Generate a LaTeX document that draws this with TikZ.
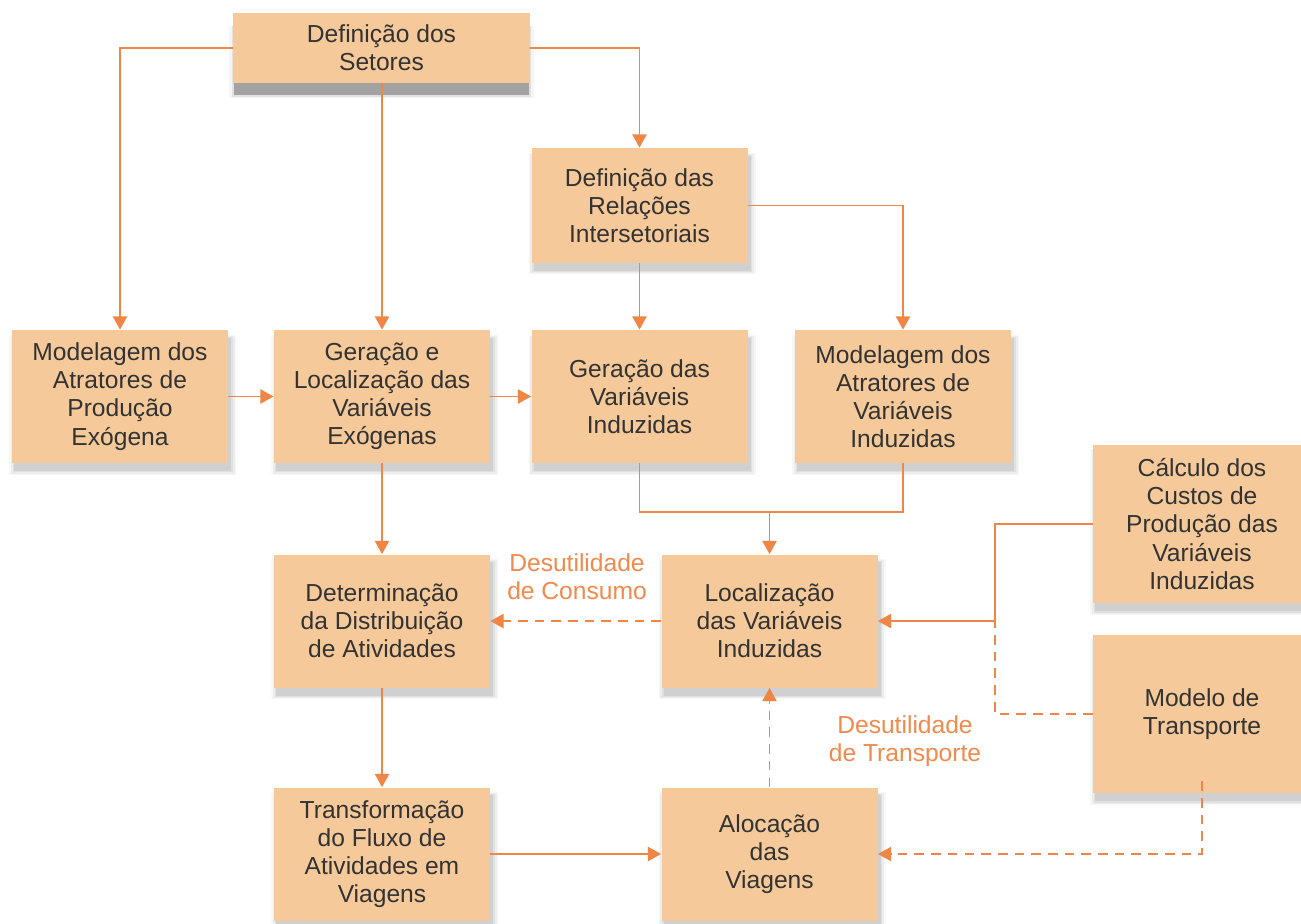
\documentclass[tikz,border=0pt]{standalone}
\usepackage{fontspec}
\setmainfont{Liberation Sans}
\usetikzlibrary{arrows.meta,shadows}
\definecolor{boxfill}{HTML}{F5C99A}
\definecolor{lineor}{HTML}{EF8646}
\definecolor{txt}{HTML}{333333}
\definecolor{lblor}{HTML}{F08A4D}
\tikzset{
  softshadow/.style={
    general shadow={fill=black, opacity=0.03, shadow xshift=1.5pt, shadow yshift=-4.5pt, shadow scale=1.05},
    general shadow={fill=black, opacity=0.04, shadow xshift=1.5pt, shadow yshift=-4.5pt, shadow scale=1.035},
    general shadow={fill=black, opacity=0.05, shadow xshift=1.5pt, shadow yshift=-4.5pt, shadow scale=1.02},
    general shadow={fill=black, opacity=0.07, shadow xshift=1.5pt, shadow yshift=-4.5pt, shadow scale=1.005}},
  greyshadow/.style={
    general shadow={fill=black, opacity=0.04, shadow yshift=-7.5pt, shadow scale=1.03},
    general shadow={fill=black, opacity=0.08, shadow yshift=-7.5pt, shadow scale=1.01},
    general shadow={fill=black, opacity=0.28, shadow yshift=-7pt, shadow scale=0.99}},
  plainbox/.style={rectangle, fill=boxfill, draw=none, text=txt, align=center,
    minimum width=4.32cm, minimum height=2.66cm, inner sep=0pt,
    font=\fontsize{14}{16}\selectfont},
  box/.style={plainbox, softshadow},
  conn/.style={draw=lineor, line width=1.1pt},
  arr/.style={conn, -{Triangle[width=8pt,length=7.5pt]}},
  dsh/.style={dash pattern=on 5.5pt off 4pt},
  lbl/.style={text=lblor, align=center, font=\fontsize{14}{16}\selectfont, inner sep=0pt}
}
\begin{document}
\begin{tikzpicture}
\useasboundingbox (0,0) rectangle (26.02,-18.46);
\fill[white] (0,0) rectangle (26.02,-18.46);
\coordinate (j) at (15.39,-10.24);
\coordinate (k) at (19.9,-12.42);
\node[plainbox, greyshadow, minimum width=5.94cm, minimum height=1.4cm] (setores) at (7.63,-0.96) {Definição dos\\Setores};
\node[box, minimum height=2.3cm] (relacoes) at (12.79,-4.11) {Definição das\\Relações\\Intersetoriais};
\node[box] (mod1) at (2.4,-7.93) {Modelagem dos\\Atratores de\\Produção\\Exógena};
\node[box] (gerloc) at (7.64,-7.93) {Geração e\\Localização das\\Variáveis\\Exógenas};
\node[box] (gerind) at (12.79,-7.93) {Geração das\\Variáveis\\Induzidas};
\node[box] (mod2) at (18.06,-7.93) {Modelagem dos\\Atratores de\\Variáveis\\Induzidas};
\node[box, minimum width=4.36cm, minimum height=3.16cm] (calculo) at (24.04,-10.48) {Cálculo dos\\Custos de\\Produção das\\Variáveis\\Induzidas};
\node[box, minimum width=4.36cm, minimum height=3.16cm] (modelo) at (24.04,-14.28) {Modelo de\\Transporte};
\node[box] (determ) at (7.64,-12.42) {Determinação\\da Distribuição\\de Atividades};
\node[box] (local) at (15.39,-12.42) {Localização\\das Variáveis\\Induzidas};
\node[box] (transf) at (7.64,-17.08) {Transformação\\do Fluxo de\\Atividades em\\Viagens};
\node[box] (aloc) at (15.39,-17.08) {Alocação\\das\\Viagens};

\draw[arr] (setores.west) -| (mod1.north);
\draw[arr] (gerloc.north |- setores.south) -- (gerloc.north);
\draw[arr] (setores.east) -| (relacoes.north);
\draw[arr] (relacoes.south) -- (gerind.north);
\draw[arr] (relacoes.east) -| (mod2.north);
\draw[arr] (mod1.east) -- (gerloc.west);
\draw[arr] (gerloc.east) -- (gerind.west);
\draw[conn] (gerind.south) |- (j) -| (mod2.south);
\draw[arr] (j) -- (local.north);
\draw[arr] (gerloc.south) -- (determ.north);
\draw[arr, dsh] (local.west) -- (determ.east);
\draw[arr] (calculo.west) -| (k) -- (local.east);
\draw[conn, dsh] (modelo.west) -| (k);
\draw[arr, dsh] ([yshift=0.24cm]modelo.south) |- (aloc.east);
\draw[arr] (determ.south) -- (transf.north);
\draw[arr] (transf.east) -- (aloc.west);
\draw[arr, dsh] (aloc.north) -- (local.south);

\node[lbl] (lblc) at (11.54,-11.54) {Desutilidade\\de Consumo};
\node[lbl] (lblt) at (18.1,-14.82) {Desutilidade\\de Transporte};
\end{tikzpicture}
\end{document}
